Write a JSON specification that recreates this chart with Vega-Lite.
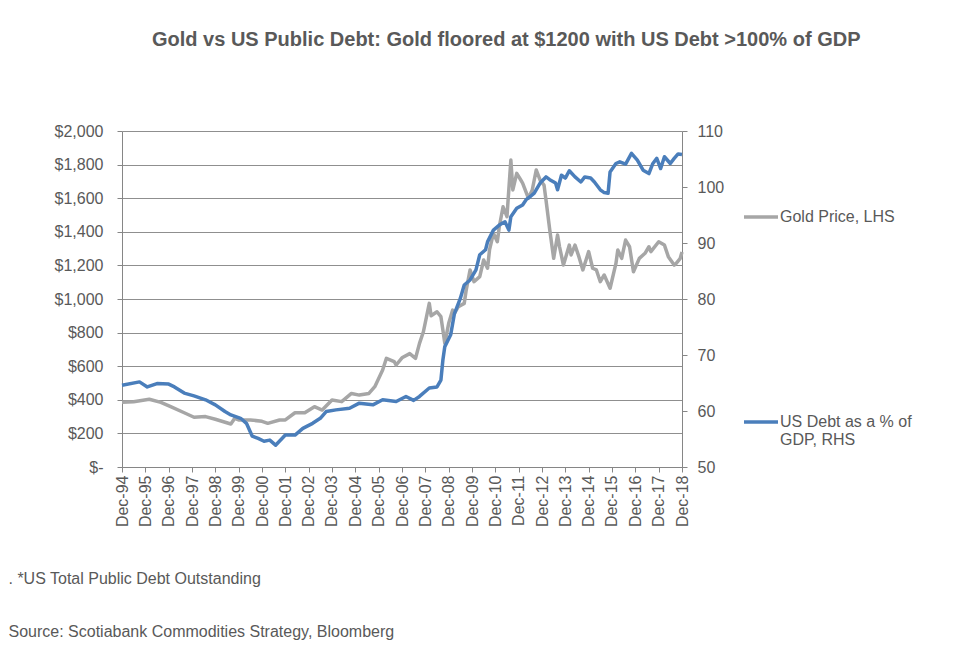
{
  "$schema": "https://vega.github.io/schema/vega-lite/v6.json",
  "width": 560,
  "height": 336,
  "autosize": {"type": "none"},
  "padding": {"left": 122, "top": 131, "right": 271, "bottom": 185},
  "background": "white",
  "config": {"font": "Liberation Sans", "view": {"stroke": null}},
  "title": {"text": "Gold vs US Public Debt: Gold floored at $1200 with US Debt >100% of GDP", "anchor": "start", "frame": "group", "dx": 30, "offset": 73, "fontSize": 20, "fontWeight": "bold", "color": "#595959", "font": "Liberation Sans"},
  "datasets": {
    "gold": [
      {"date": "1994-12-01", "series": "Gold Price, LHS", "value": 385},
      {"date": "1995-06-01", "series": "Gold Price, LHS", "value": 388},
      {"date": "1996-02-01", "series": "Gold Price, LHS", "value": 403},
      {"date": "1996-08-01", "series": "Gold Price, LHS", "value": 385},
      {"date": "1997-01-01", "series": "Gold Price, LHS", "value": 359},
      {"date": "1997-08-01", "series": "Gold Price, LHS", "value": 323},
      {"date": "1998-01-01", "series": "Gold Price, LHS", "value": 296},
      {"date": "1998-07-01", "series": "Gold Price, LHS", "value": 300},
      {"date": "1998-12-01", "series": "Gold Price, LHS", "value": 284},
      {"date": "1999-08-01", "series": "Gold Price, LHS", "value": 256},
      {"date": "1999-10-01", "series": "Gold Price, LHS", "value": 290},
      {"date": "1999-12-01", "series": "Gold Price, LHS", "value": 280},
      {"date": "2000-06-01", "series": "Gold Price, LHS", "value": 280},
      {"date": "2000-12-01", "series": "Gold Price, LHS", "value": 272},
      {"date": "2001-03-01", "series": "Gold Price, LHS", "value": 260},
      {"date": "2001-09-01", "series": "Gold Price, LHS", "value": 280},
      {"date": "2001-12-01", "series": "Gold Price, LHS", "value": 280},
      {"date": "2002-05-01", "series": "Gold Price, LHS", "value": 323},
      {"date": "2002-10-01", "series": "Gold Price, LHS", "value": 323},
      {"date": "2003-03-01", "series": "Gold Price, LHS", "value": 359},
      {"date": "2003-07-01", "series": "Gold Price, LHS", "value": 339},
      {"date": "2003-12-01", "series": "Gold Price, LHS", "value": 399},
      {"date": "2004-05-01", "series": "Gold Price, LHS", "value": 389},
      {"date": "2004-10-01", "series": "Gold Price, LHS", "value": 438},
      {"date": "2005-02-01", "series": "Gold Price, LHS", "value": 428},
      {"date": "2005-07-01", "series": "Gold Price, LHS", "value": 438},
      {"date": "2005-10-01", "series": "Gold Price, LHS", "value": 478},
      {"date": "2006-02-01", "series": "Gold Price, LHS", "value": 577},
      {"date": "2006-04-01", "series": "Gold Price, LHS", "value": 647},
      {"date": "2006-08-01", "series": "Gold Price, LHS", "value": 627},
      {"date": "2006-09-01", "series": "Gold Price, LHS", "value": 607},
      {"date": "2006-12-01", "series": "Gold Price, LHS", "value": 650},
      {"date": "2007-04-01", "series": "Gold Price, LHS", "value": 675},
      {"date": "2007-07-01", "series": "Gold Price, LHS", "value": 647},
      {"date": "2007-09-01", "series": "Gold Price, LHS", "value": 736},
      {"date": "2007-11-01", "series": "Gold Price, LHS", "value": 805},
      {"date": "2008-02-01", "series": "Gold Price, LHS", "value": 974},
      {"date": "2008-03-01", "series": "Gold Price, LHS", "value": 900},
      {"date": "2008-06-01", "series": "Gold Price, LHS", "value": 924},
      {"date": "2008-08-01", "series": "Gold Price, LHS", "value": 895},
      {"date": "2008-09-01", "series": "Gold Price, LHS", "value": 815},
      {"date": "2008-10-01", "series": "Gold Price, LHS", "value": 736},
      {"date": "2008-12-01", "series": "Gold Price, LHS", "value": 855},
      {"date": "2009-02-01", "series": "Gold Price, LHS", "value": 934},
      {"date": "2009-03-01", "series": "Gold Price, LHS", "value": 915},
      {"date": "2009-05-01", "series": "Gold Price, LHS", "value": 954},
      {"date": "2009-08-01", "series": "Gold Price, LHS", "value": 974},
      {"date": "2009-09-01", "series": "Gold Price, LHS", "value": 1053},
      {"date": "2009-11-01", "series": "Gold Price, LHS", "value": 1173},
      {"date": "2010-01-01", "series": "Gold Price, LHS", "value": 1103},
      {"date": "2010-04-01", "series": "Gold Price, LHS", "value": 1133},
      {"date": "2010-06-01", "series": "Gold Price, LHS", "value": 1232},
      {"date": "2010-08-01", "series": "Gold Price, LHS", "value": 1183},
      {"date": "2010-09-01", "series": "Gold Price, LHS", "value": 1292},
      {"date": "2010-11-01", "series": "Gold Price, LHS", "value": 1391},
      {"date": "2011-01-01", "series": "Gold Price, LHS", "value": 1341},
      {"date": "2011-02-01", "series": "Gold Price, LHS", "value": 1430},
      {"date": "2011-04-01", "series": "Gold Price, LHS", "value": 1549},
      {"date": "2011-06-01", "series": "Gold Price, LHS", "value": 1490},
      {"date": "2011-08-01", "series": "Gold Price, LHS", "value": 1827},
      {"date": "2011-09-01", "series": "Gold Price, LHS", "value": 1649},
      {"date": "2011-11-01", "series": "Gold Price, LHS", "value": 1748},
      {"date": "2012-01-01", "series": "Gold Price, LHS", "value": 1710},
      {"date": "2012-02-01", "series": "Gold Price, LHS", "value": 1690},
      {"date": "2012-05-01", "series": "Gold Price, LHS", "value": 1600},
      {"date": "2012-07-01", "series": "Gold Price, LHS", "value": 1649},
      {"date": "2012-09-01", "series": "Gold Price, LHS", "value": 1768},
      {"date": "2012-11-01", "series": "Gold Price, LHS", "value": 1708},
      {"date": "2013-01-01", "series": "Gold Price, LHS", "value": 1678},
      {"date": "2013-02-01", "series": "Gold Price, LHS", "value": 1589},
      {"date": "2013-04-01", "series": "Gold Price, LHS", "value": 1411},
      {"date": "2013-06-01", "series": "Gold Price, LHS", "value": 1242},
      {"date": "2013-08-01", "series": "Gold Price, LHS", "value": 1381},
      {"date": "2013-09-01", "series": "Gold Price, LHS", "value": 1311},
      {"date": "2013-11-01", "series": "Gold Price, LHS", "value": 1202},
      {"date": "2014-02-01", "series": "Gold Price, LHS", "value": 1321},
      {"date": "2014-03-01", "series": "Gold Price, LHS", "value": 1262},
      {"date": "2014-05-01", "series": "Gold Price, LHS", "value": 1321},
      {"date": "2014-07-01", "series": "Gold Price, LHS", "value": 1252},
      {"date": "2014-09-01", "series": "Gold Price, LHS", "value": 1173},
      {"date": "2014-12-01", "series": "Gold Price, LHS", "value": 1282},
      {"date": "2015-02-01", "series": "Gold Price, LHS", "value": 1183},
      {"date": "2015-04-01", "series": "Gold Price, LHS", "value": 1173},
      {"date": "2015-06-01", "series": "Gold Price, LHS", "value": 1103},
      {"date": "2015-08-01", "series": "Gold Price, LHS", "value": 1143},
      {"date": "2015-11-01", "series": "Gold Price, LHS", "value": 1064},
      {"date": "2016-02-01", "series": "Gold Price, LHS", "value": 1212},
      {"date": "2016-03-01", "series": "Gold Price, LHS", "value": 1292},
      {"date": "2016-05-01", "series": "Gold Price, LHS", "value": 1242},
      {"date": "2016-07-01", "series": "Gold Price, LHS", "value": 1351},
      {"date": "2016-09-01", "series": "Gold Price, LHS", "value": 1311},
      {"date": "2016-11-01", "series": "Gold Price, LHS", "value": 1162},
      {"date": "2017-02-01", "series": "Gold Price, LHS", "value": 1242},
      {"date": "2017-05-01", "series": "Gold Price, LHS", "value": 1272},
      {"date": "2017-07-01", "series": "Gold Price, LHS", "value": 1311},
      {"date": "2017-08-01", "series": "Gold Price, LHS", "value": 1282},
      {"date": "2017-12-01", "series": "Gold Price, LHS", "value": 1341},
      {"date": "2018-03-01", "series": "Gold Price, LHS", "value": 1321},
      {"date": "2018-05-01", "series": "Gold Price, LHS", "value": 1252},
      {"date": "2018-08-01", "series": "Gold Price, LHS", "value": 1202},
      {"date": "2018-09-01", "series": "Gold Price, LHS", "value": 1212},
      {"date": "2018-11-01", "series": "Gold Price, LHS", "value": 1240},
      {"date": "2018-12-01", "series": "Gold Price, LHS", "value": 1280}
    ],
    "debt": [
      {"date": "1994-12-01", "series": "US Debt as a % of GDP, RHS", "value": 64.6},
      {"date": "1995-09-01", "series": "US Debt as a % of GDP, RHS", "value": 65.2},
      {"date": "1996-01-01", "series": "US Debt as a % of GDP, RHS", "value": 64.3},
      {"date": "1996-06-01", "series": "US Debt as a % of GDP, RHS", "value": 64.9},
      {"date": "1996-12-01", "series": "US Debt as a % of GDP, RHS", "value": 64.8},
      {"date": "1997-03-01", "series": "US Debt as a % of GDP, RHS", "value": 64.3},
      {"date": "1997-08-01", "series": "US Debt as a % of GDP, RHS", "value": 63.2},
      {"date": "1998-01-01", "series": "US Debt as a % of GDP, RHS", "value": 62.7},
      {"date": "1998-07-01", "series": "US Debt as a % of GDP, RHS", "value": 62.0},
      {"date": "1998-12-01", "series": "US Debt as a % of GDP, RHS", "value": 61.1},
      {"date": "1999-05-01", "series": "US Debt as a % of GDP, RHS", "value": 59.9},
      {"date": "1999-08-01", "series": "US Debt as a % of GDP, RHS", "value": 59.3},
      {"date": "2000-01-01", "series": "US Debt as a % of GDP, RHS", "value": 58.7},
      {"date": "2000-04-01", "series": "US Debt as a % of GDP, RHS", "value": 57.8},
      {"date": "2000-07-01", "series": "US Debt as a % of GDP, RHS", "value": 55.5},
      {"date": "2000-10-01", "series": "US Debt as a % of GDP, RHS", "value": 55.1},
      {"date": "2001-01-01", "series": "US Debt as a % of GDP, RHS", "value": 54.6},
      {"date": "2001-04-01", "series": "US Debt as a % of GDP, RHS", "value": 54.8},
      {"date": "2001-07-01", "series": "US Debt as a % of GDP, RHS", "value": 53.9},
      {"date": "2001-12-01", "series": "US Debt as a % of GDP, RHS", "value": 55.7},
      {"date": "2002-05-01", "series": "US Debt as a % of GDP, RHS", "value": 55.7},
      {"date": "2002-09-01", "series": "US Debt as a % of GDP, RHS", "value": 56.9},
      {"date": "2003-02-01", "series": "US Debt as a % of GDP, RHS", "value": 57.8},
      {"date": "2003-06-01", "series": "US Debt as a % of GDP, RHS", "value": 58.7},
      {"date": "2003-09-01", "series": "US Debt as a % of GDP, RHS", "value": 59.9},
      {"date": "2004-02-01", "series": "US Debt as a % of GDP, RHS", "value": 60.2},
      {"date": "2004-09-01", "series": "US Debt as a % of GDP, RHS", "value": 60.5},
      {"date": "2005-02-01", "series": "US Debt as a % of GDP, RHS", "value": 61.4},
      {"date": "2005-09-01", "series": "US Debt as a % of GDP, RHS", "value": 61.1},
      {"date": "2006-02-01", "series": "US Debt as a % of GDP, RHS", "value": 62.0},
      {"date": "2006-09-01", "series": "US Debt as a % of GDP, RHS", "value": 61.7},
      {"date": "2007-02-01", "series": "US Debt as a % of GDP, RHS", "value": 62.6},
      {"date": "2007-06-01", "series": "US Debt as a % of GDP, RHS", "value": 61.9},
      {"date": "2007-09-01", "series": "US Debt as a % of GDP, RHS", "value": 62.6},
      {"date": "2008-02-01", "series": "US Debt as a % of GDP, RHS", "value": 64.1},
      {"date": "2008-06-01", "series": "US Debt as a % of GDP, RHS", "value": 64.3},
      {"date": "2008-08-01", "series": "US Debt as a % of GDP, RHS", "value": 65.5},
      {"date": "2008-09-01", "series": "US Debt as a % of GDP, RHS", "value": 69.1},
      {"date": "2008-10-01", "series": "US Debt as a % of GDP, RHS", "value": 71.5},
      {"date": "2009-01-01", "series": "US Debt as a % of GDP, RHS", "value": 73.6},
      {"date": "2009-03-01", "series": "US Debt as a % of GDP, RHS", "value": 77.4},
      {"date": "2009-06-01", "series": "US Debt as a % of GDP, RHS", "value": 80.1},
      {"date": "2009-08-01", "series": "US Debt as a % of GDP, RHS", "value": 82.5},
      {"date": "2009-11-01", "series": "US Debt as a % of GDP, RHS", "value": 83.4},
      {"date": "2010-02-01", "series": "US Debt as a % of GDP, RHS", "value": 85.2},
      {"date": "2010-04-01", "series": "US Debt as a % of GDP, RHS", "value": 87.9},
      {"date": "2010-07-01", "series": "US Debt as a % of GDP, RHS", "value": 88.8},
      {"date": "2010-08-01", "series": "US Debt as a % of GDP, RHS", "value": 90.2},
      {"date": "2010-11-01", "series": "US Debt as a % of GDP, RHS", "value": 92.3},
      {"date": "2011-02-01", "series": "US Debt as a % of GDP, RHS", "value": 93.2},
      {"date": "2011-05-01", "series": "US Debt as a % of GDP, RHS", "value": 93.8},
      {"date": "2011-07-01", "series": "US Debt as a % of GDP, RHS", "value": 92.3},
      {"date": "2011-08-01", "series": "US Debt as a % of GDP, RHS", "value": 94.7},
      {"date": "2011-11-01", "series": "US Debt as a % of GDP, RHS", "value": 96.2},
      {"date": "2012-02-01", "series": "US Debt as a % of GDP, RHS", "value": 96.8},
      {"date": "2012-04-01", "series": "US Debt as a % of GDP, RHS", "value": 97.8},
      {"date": "2012-06-01", "series": "US Debt as a % of GDP, RHS", "value": 98.3},
      {"date": "2012-08-01", "series": "US Debt as a % of GDP, RHS", "value": 98.9},
      {"date": "2012-11-01", "series": "US Debt as a % of GDP, RHS", "value": 100.7},
      {"date": "2013-02-01", "series": "US Debt as a % of GDP, RHS", "value": 101.8},
      {"date": "2013-04-01", "series": "US Debt as a % of GDP, RHS", "value": 101.3},
      {"date": "2013-07-01", "series": "US Debt as a % of GDP, RHS", "value": 100.7},
      {"date": "2013-08-01", "series": "US Debt as a % of GDP, RHS", "value": 99.5},
      {"date": "2013-10-01", "series": "US Debt as a % of GDP, RHS", "value": 102.1},
      {"date": "2013-12-01", "series": "US Debt as a % of GDP, RHS", "value": 101.6},
      {"date": "2014-02-01", "series": "US Debt as a % of GDP, RHS", "value": 102.9},
      {"date": "2014-05-01", "series": "US Debt as a % of GDP, RHS", "value": 101.8},
      {"date": "2014-08-01", "series": "US Debt as a % of GDP, RHS", "value": 100.9},
      {"date": "2014-10-01", "series": "US Debt as a % of GDP, RHS", "value": 101.8},
      {"date": "2015-01-01", "series": "US Debt as a % of GDP, RHS", "value": 101.6},
      {"date": "2015-03-01", "series": "US Debt as a % of GDP, RHS", "value": 100.9},
      {"date": "2015-06-01", "series": "US Debt as a % of GDP, RHS", "value": 99.5},
      {"date": "2015-08-01", "series": "US Debt as a % of GDP, RHS", "value": 99.0},
      {"date": "2015-10-01", "series": "US Debt as a % of GDP, RHS", "value": 98.9},
      {"date": "2015-11-01", "series": "US Debt as a % of GDP, RHS", "value": 102.7},
      {"date": "2016-02-01", "series": "US Debt as a % of GDP, RHS", "value": 104.2},
      {"date": "2016-04-01", "series": "US Debt as a % of GDP, RHS", "value": 104.5},
      {"date": "2016-07-01", "series": "US Debt as a % of GDP, RHS", "value": 104.1},
      {"date": "2016-10-01", "series": "US Debt as a % of GDP, RHS", "value": 106.0},
      {"date": "2017-01-01", "series": "US Debt as a % of GDP, RHS", "value": 104.8},
      {"date": "2017-04-01", "series": "US Debt as a % of GDP, RHS", "value": 103.0},
      {"date": "2017-07-01", "series": "US Debt as a % of GDP, RHS", "value": 102.4},
      {"date": "2017-09-01", "series": "US Debt as a % of GDP, RHS", "value": 104.2},
      {"date": "2017-11-01", "series": "US Debt as a % of GDP, RHS", "value": 105.1},
      {"date": "2018-01-01", "series": "US Debt as a % of GDP, RHS", "value": 103.3},
      {"date": "2018-03-01", "series": "US Debt as a % of GDP, RHS", "value": 105.4},
      {"date": "2018-06-01", "series": "US Debt as a % of GDP, RHS", "value": 104.2},
      {"date": "2018-08-01", "series": "US Debt as a % of GDP, RHS", "value": 105.1},
      {"date": "2018-10-01", "series": "US Debt as a % of GDP, RHS", "value": 105.9},
      {"date": "2018-12-01", "series": "US Debt as a % of GDP, RHS", "value": 105.8}
    ]
  },
  "encoding": {
    "x": {
      "field": "date",
      "type": "temporal",
      "scale": {"type": "utc", "domain": [{"year": 1994, "month": 12, "date": 1, "utc": true}, {"year": 2018, "month": 12, "date": 1, "utc": true}]},
      "axis": {
        "values": [
          {"year": 1994, "month": 12, "date": 1, "utc": true}, {"year": 1995, "month": 12, "date": 1, "utc": true},
          {"year": 1996, "month": 12, "date": 1, "utc": true}, {"year": 1997, "month": 12, "date": 1, "utc": true},
          {"year": 1998, "month": 12, "date": 1, "utc": true}, {"year": 1999, "month": 12, "date": 1, "utc": true},
          {"year": 2000, "month": 12, "date": 1, "utc": true}, {"year": 2001, "month": 12, "date": 1, "utc": true},
          {"year": 2002, "month": 12, "date": 1, "utc": true}, {"year": 2003, "month": 12, "date": 1, "utc": true},
          {"year": 2004, "month": 12, "date": 1, "utc": true}, {"year": 2005, "month": 12, "date": 1, "utc": true},
          {"year": 2006, "month": 12, "date": 1, "utc": true}, {"year": 2007, "month": 12, "date": 1, "utc": true},
          {"year": 2008, "month": 12, "date": 1, "utc": true}, {"year": 2009, "month": 12, "date": 1, "utc": true},
          {"year": 2010, "month": 12, "date": 1, "utc": true}, {"year": 2011, "month": 12, "date": 1, "utc": true},
          {"year": 2012, "month": 12, "date": 1, "utc": true}, {"year": 2013, "month": 12, "date": 1, "utc": true},
          {"year": 2014, "month": 12, "date": 1, "utc": true}, {"year": 2015, "month": 12, "date": 1, "utc": true},
          {"year": 2016, "month": 12, "date": 1, "utc": true}, {"year": 2017, "month": 12, "date": 1, "utc": true},
          {"year": 2018, "month": 12, "date": 1, "utc": true}
        ],
        "labelExpr": "utcFormat(datum.value, '%b-%y')",
        "labelAngle": -90,
        "labelAlign": "right",
        "labelBaseline": "middle",
        "labelFontSize": 16,
        "labelColor": "#595959",
        "labelPadding": 3,
        "labelOverlap": false,
        "labelFlush": false,
        "tickSize": 5,
        "tickColor": "#868686",
        "domainColor": "#868686",
        "grid": false,
        "title": [". *US Total Public Debt Outstanding", "Source: Scotiabank Commodities Strategy, Bloomberg"],
        "titleFontSize": 16,
        "titleFontWeight": "normal",
        "titleColor": "#595959",
        "titleAlign": "left",
        "titleAnchor": "start",
        "titleAngle": 0,
        "titleBaseline": "top",
        "titleLineHeight": 53,
        "titleX": -114,
        "titleY": 103
      }
    }
  },
  "layer": [
    {
      "data": {"name": "gold"},
      "mark": {"type": "line", "strokeWidth": 3.5, "strokeJoin": "round", "interpolate": "linear"},
      "encoding": {
        "y": {
          "field": "value", "type": "quantitative",
          "scale": {"domain": [0, 2000], "nice": false, "zero": true},
          "axis": {
            "orient": "left", "values": [0, 200, 400, 600, 800, 1000, 1200, 1400, 1600, 1800, 2000],
            "labelExpr": "datum.value == 0 ? '$-' : '$' + format(datum.value, ',')",
            "labelFontSize": 16, "labelColor": "#595959", "labelPadding": 14,
            "tickSize": 5, "tickColor": "#868686", "domainColor": "#868686",
            "grid": true, "gridColor": "#8f8f8f", "gridWidth": 1, "title": null
          }
        },
        "color": {
          "field": "series", "type": "nominal",
          "scale": {"domain": ["Gold Price, LHS", "US Debt as a % of GDP, RHS"], "range": ["#A6A6A6", "#4A7EBB"]},
          "legend": {
            "title": null, "orient": "none", "legendX": 620, "legendY": 67,
            "symbolType": "stroke", "symbolSize": 1156, "symbolStrokeWidth": 3.5,
            "labelFontSize": 16, "labelColor": "#595959", "labelOffset": 0, "labelLimit": 300,
            "rowPadding": 178, "padding": 0,
            "labelExpr": "datum.label == 'US Debt as a % of GDP, RHS' ? ['US Debt as a % of', 'GDP, RHS'] : datum.label"
          }
        }
      }
    },
    {
      "data": {"name": "debt"},
      "mark": {"type": "line", "strokeWidth": 3.5, "strokeJoin": "round", "interpolate": "linear"},
      "encoding": {
        "y": {
          "field": "value", "type": "quantitative",
          "scale": {"domain": [50, 110], "nice": false, "zero": false},
          "axis": {
            "orient": "right", "values": [50, 60, 70, 80, 90, 100, 110],
            "labelFontSize": 16, "labelColor": "#595959", "labelPadding": 10,
            "tickSize": 5, "tickColor": "#868686", "domainColor": "#868686",
            "grid": false, "title": null
          }
        },
        "color": {"field": "series", "type": "nominal"}
      }
    }
  ],
  "resolve": {"scale": {"y": "independent"}}
}
